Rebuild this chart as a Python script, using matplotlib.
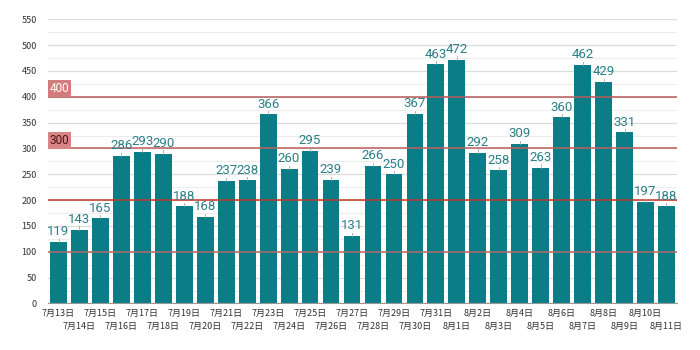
import matplotlib
matplotlib.use("Agg")
import matplotlib.pyplot as plt
from matplotlib.ticker import MultipleLocator, FixedLocator

dates = ["7月13日", "7月14日", "7月15日", "7月16日", "7月17日", "7月18日", "7月19日",
         "7月20日", "7月21日", "7月22日", "7月23日", "7月24日", "7月25日", "7月26日",
         "7月27日", "7月28日", "7月29日", "7月30日", "7月31日", "8月1日", "8月2日",
         "8月3日", "8月4日", "8月5日", "8月6日", "8月7日", "8月8日", "8月9日",
         "8月10日", "8月11日"]
cases = [119, 143, 165, 286, 293, 290, 188, 168, 237, 238, 366, 260, 295, 239,
         131, 266, 250, 367, 463, 472, 292, 258, 309, 263, 360, 462, 429, 331,
         197, 188]
ref_levels = [100, 200, 300, 400]
ref_colors = ["#b56a6a", "#c0392b", "#c0605e", "#b85c5c"]
band_labels = {400: ("400", "#d47b7b", "white"), 300: ("300", "#d98585", "#4a1515")}

plt.rcParams['font.family'] = ['Noto Sans CJK JP', 'DejaVu Sans']

fig = plt.figure(figsize=(7, 3.5), dpi=100)
ax = fig.add_axes([0.0686, 0.133, 0.8985, 0.812])

teal = "#0b7d87"
x = list(range(len(cases)))
ax.bar(x, cases, width=0.8, color=teal, zorder=2)

ax.set_xlim(-0.5, len(cases) - 0.5)
ax.set_ylim(0, 550)
ax.yaxis.set_major_locator(MultipleLocator(50))
ax.yaxis.set_minor_locator(MultipleLocator(25))
ax.grid(axis='y', which='major', color='#dcdcdc', linewidth=0.9, zorder=0)
ax.grid(axis='y', which='minor', color='#ededed', linewidth=0.8, zorder=0)
ax.tick_params(axis='y', which='both', length=0, labelsize=6.5, labelcolor='#333333', pad=8)

for s in ['top', 'right', 'left']:
    ax.spines[s].set_visible(False)
ax.spines['bottom'].set_color('#999999')
ax.spines['bottom'].set_linewidth(0.8)

# Date labels alternate between two rows: even days on major ticks, odd on minor
even = x[0::2]
odd = x[1::2]
ax.xaxis.set_major_locator(FixedLocator(even))
ax.xaxis.set_minor_locator(FixedLocator(odd))
ax.set_xticklabels([dates[i] for i in even], fontsize=6.5, color='#333333')
ax.set_xticklabels([dates[i] for i in odd], minor=True, fontsize=6.5, color='#333333')
ax.tick_params(axis='x', which='major', length=0, pad=4)
ax.tick_params(axis='x', which='minor', length=0, pad=13)

# Reference lines drawn over the bars
for lvl, col in zip(ref_levels, ref_colors):
    ax.axhline(lvl, color=col, linewidth=1.1, zorder=3)

for lvl, (txt, bg, fg) in band_labels.items():
    ax.text(-0.43, lvl + 3, txt, fontsize=8.5, color=fg, ha='left', va='bottom',
            zorder=4, family=['Roboto', 'DejaVu Sans'],
            bbox=dict(boxstyle='square,pad=0.15', facecolor=bg, edgecolor='none'))

# Value labels with short leader ticks
for xi, v in zip(x, cases):
    ax.plot([xi, xi], [v, v + 6], color='#aaaaaa', linewidth=0.6, zorder=3)
    ax.text(xi, v + 7, str(v), ha='center', va='bottom', fontsize=9.5,
            color='#2a7f86', family=['Roboto', 'DejaVu Sans'], zorder=4)

fig.savefig("out.png", dpi=100)
